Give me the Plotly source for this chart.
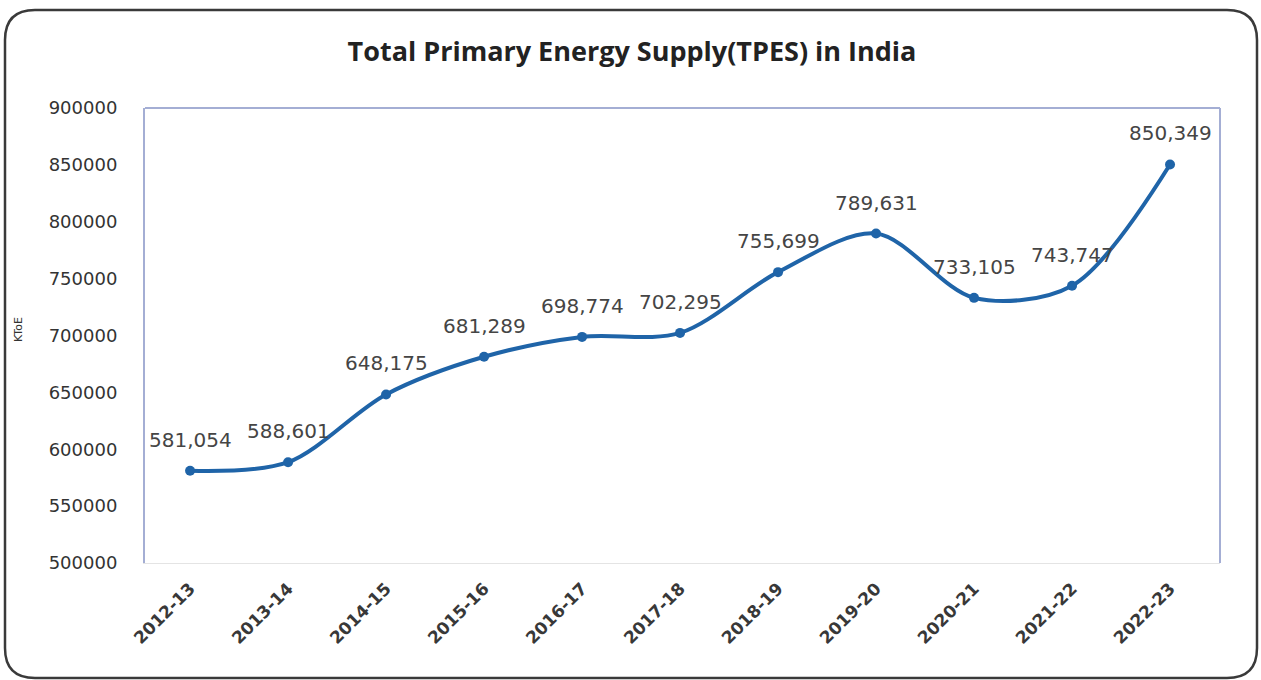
import plotly.graph_objects as go

# Fiscal years and total primary energy supply (KToE)
years = ["2012-13", "2013-14", "2014-15", "2015-16", "2016-17", "2017-18",
         "2018-19", "2019-20", "2020-21", "2021-22", "2022-23"]
tpes = [581054, 588601, 648175, 681289, 698774, 702295,
        755699, 789631, 733105, 743747, 850349]
labels = [f"{v:,}" for v in tpes]

y_ticks = [500000, 550000, 600000, 650000, 700000, 750000, 800000, 850000, 900000]

W, H = 1261, 680
L, R, T, B = 145, 41, 108, 117
pw, ph = W - L - R, H - T - B

LINE_BLUE = "#1f64a8"
FRAME = "#a4aed4"


def px_to_paper(x, y):
    return (x - L) / pw, (H - B - y) / ph


def rounded_rect_path(x0, y0, x1, y1, r):
    def P(x, y):
        a, b = px_to_paper(x, y)
        return f"{a:.5f},{b:.5f}"
    return " ".join([
        f"M {P(x0 + r, y0)}", f"L {P(x1 - r, y0)}",
        f"Q {P(x1, y0)} {P(x1, y0 + r)}", f"L {P(x1, y1 - r)}",
        f"Q {P(x1, y1)} {P(x1 - r, y1)}", f"L {P(x0 + r, y1)}",
        f"Q {P(x0, y1)} {P(x0, y1 - r)}", f"L {P(x0, y0 + r)}",
        f"Q {P(x0, y0)} {P(x0 + r, y0)} Z",
    ])


fig = go.Figure()
fig.add_trace(go.Scatter(
    x=years, y=tpes, mode="lines+markers",
    line=dict(color=LINE_BLUE, width=4, shape="spline", smoothing=0.9),
    marker=dict(size=10, color=LINE_BLUE),
    cliponaxis=False, showlegend=False,
))

# value labels above each point
for yr, v, lab in zip(years, tpes, labels):
    fig.add_annotation(
        x=yr, y=v, text=lab, showarrow=False, yshift=31,
        xanchor="center", yanchor="middle",
        font=dict(family="DejaVu Sans", size=20, color="#454545"),
    )

# y-axis title placed at the far left
kx, ky = px_to_paper(18, 330)
fig.add_annotation(
    x=kx, y=ky, xref="paper", yref="paper", text="KToE", textangle=-90,
    showarrow=False, xanchor="center", yanchor="middle",
    font=dict(family="DejaVu Sans", size=11, color="#333333"),
)

fig.update_layout(
    width=W, height=H,
    margin=dict(l=L, r=R, t=T, b=B),
    paper_bgcolor="white", plot_bgcolor="white",
    title=dict(text="<b>Total Primary Energy Supply(TPES) in India</b>",
               x=632 / W, xanchor="center", y=1 - 52 / H, yanchor="middle",
               font=dict(family="Open Sans", size=27, color="#222222")),
    xaxis=dict(
        type="category", range=[-0.46, 10.51], tickangle=-45, showgrid=False,
        showline=True, linecolor="#e4e4e4", linewidth=1, mirror=False,
        ticks="", ticklabelstandoff=8,
        tickfont=dict(family="DejaVu Sans", size=17, color="#383838",
                      weight="bold"),
    ),
    yaxis=dict(
        range=[500000, 900000], tickvals=y_ticks,
        ticktext=[str(v) for v in y_ticks],
        showgrid=False, zeroline=False,
        showline=True, linecolor=FRAME, linewidth=2, mirror=False,
        ticks="", ticklabelstandoff=22,
        tickfont=dict(family="DejaVu Sans", size=18, color="#333333"),
    ),
    shapes=[
        dict(type="path", xref="paper", yref="paper",
             path=rounded_rect_path(5, 10, 1257, 678, 30),
             line=dict(color="#3a3a3a", width=2.5),
             fillcolor="rgba(0,0,0,0)", layer="above"),
        dict(type="line", xref="paper", yref="paper", x0=1, x1=1, y0=0, y1=1,
             line=dict(color=FRAME, width=2)),
        dict(type="line", xref="paper", yref="paper", x0=0, x1=1, y0=1, y1=1,
             line=dict(color=FRAME, width=2)),
    ],
)

fig.write_html("out.html")
